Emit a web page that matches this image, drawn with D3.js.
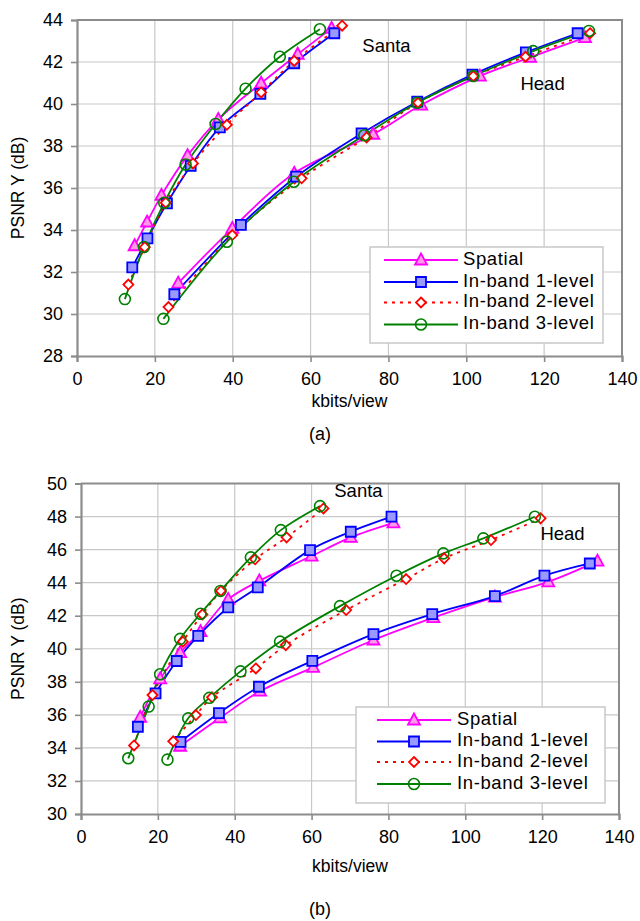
<!DOCTYPE html>
<html>
<head>
<meta charset="utf-8">
<script src="https://cdn.jsdelivr.net/npm/d3@7/dist/d3.min.js"></script>
<style>
  html, body { margin: 0; padding: 0; background: #ffffff; }
  svg { display: block; }
  text { font-family: "Liberation Sans", Arial, sans-serif; fill: #000; }
</style>
</head>
<body>
<svg id="chart" width="640" height="921"></svg>
<script>
// ---------- Data ----------
const seriesNames = ["Spatial", "In-band 1-level", "In-band 2-level", "In-band 3-level"];
const xTicks = [0, 20, 40, 60, 80, 100, 120, 140];
const yTicksA = [28, 30, 32, 34, 36, 38, 40, 42, 44];
const yTicksB = [30, 32, 34, 36, 38, 40, 42, 44, 46, 48, 50];

// (a) Santa
const aSantaSpatial = [[14.8,33.25],[18.0,34.38],[21.7,35.65],[28.4,37.54],[36.3,39.27],[47.3,40.99],[56.7,42.37],[65.4,43.6]];
const aSantaInband1 = [[14.2,32.22],[18.1,33.6],[23.1,35.27],[29.2,37.05],[36.7,38.89],[47.1,40.48],[55.8,41.94],[66.1,43.37]];
const aSantaInband2 = [[13.2,31.4],[17.4,33.18],[22.8,35.3],[29.8,37.17],[38.5,39.01],[47.3,40.55],[55.8,42.05],[68.1,43.73]];
const aSantaInband3 = [[12.3,30.71],[17.2,33.19],[22.4,35.3],[27.9,37.12],[35.6,39.05],[43.3,40.73],[52.1,42.25],[62.4,43.56]];
// (a) Head
const aHeadSpatial = [[26.0,31.47],[39.9,34.08],[55.8,36.7],[76.1,38.56],[88.4,39.95],[103.5,41.33],[116.4,42.22],[130.5,43.16]];
const aHeadInband1 = [[25.0,30.94],[42.1,34.24],[56.3,36.54],[73.1,38.6],[87.4,40.11],[101.6,41.4],[115.3,42.46],[128.6,43.37]];
const aHeadInband2 = [[23.5,30.33],[39.9,33.76],[57.7,36.46],[74.4,38.41],[87.6,40.06],[101.8,41.33],[115.2,42.25],[131.8,43.37]];
const aHeadInband3 = [[22.2,29.77],[38.5,33.44],[55.7,36.3],[73.8,38.51],[87.4,40.06],[101.8,41.33],[117.2,42.52],[131.5,43.48]];

// (b) Santa
const bSantaSpatial = [[15.4,35.85],[20.6,38.18],[25.8,39.76],[31.1,41.04],[38.3,42.99],[46.4,44.11],[60.0,45.61],[70.2,46.74],[81.3,47.62]];
const bSantaInband1 = [[14.8,35.28],[19.4,37.3],[24.9,39.26],[30.5,40.78],[38.3,42.5],[46.0,43.71],[59.6,45.97],[70.2,47.08],[80.8,47.99]];
const bSantaInband2 = [[13.8,34.15],[18.6,37.2],[26.5,40.43],[31.6,42.08],[36.4,43.5],[45.3,45.41],[53.5,46.74],[63.1,48.49]];
const bSantaInband3 = [[12.3,33.37],[17.6,36.5],[20.6,38.46],[25.8,40.6],[31.1,42.12],[36.3,43.5],[44.2,45.53],[52.0,47.18],[62.2,48.63]];
// (b) Head
const bHeadSpatial = [[25.8,34.1],[36.2,35.82],[46.6,37.43],[60.4,38.87],[76.1,40.53],[91.7,41.88],[107.7,43.12],[121.6,44.05],[134.4,45.3]];
const bHeadInband1 = [[25.9,34.37],[35.9,36.11],[46.3,37.7],[60.2,39.27],[76.1,40.89],[91.4,42.1],[107.7,43.19],[120.6,44.42],[132.4,45.16]];
const bHeadInband2 = [[24.0,34.4],[29.9,35.99],[34.1,37.06],[45.5,38.81],[53.3,40.22],[69.0,42.34],[84.6,44.22],[94.5,45.47],[106.7,46.58],[119.6,47.89]];
const bHeadInband3 = [[22.5,33.29],[27.9,35.79],[33.4,37.03],[41.5,38.63],[51.8,40.43],[67.4,42.58],[82.1,44.42],[94.3,45.77],[104.7,46.68],[118.1,47.99]];

// ---------- Styles ----------
const styles = [
  { color: "#ff00ff", fill: "#ff99e6", marker: "triangle", dash: null },
  { color: "#0000ff", fill: "#9999ff", marker: "square", dash: null },
  { color: "#ff0000", fill: "#ffffff", marker: "diamond", dash: "3,5" },
  { color: "#008000", fill: "none", marker: "circle", dash: null }
];

const svg = d3.select("#chart");

function markerPath(type) {
  if (type === "triangle") return "M0,-6.5 L6,4.5 L-6,4.5 Z";
  if (type === "square") return "M-5,-5 L5,-5 L5,5 L-5,5 Z";
  if (type === "diamond") return "M0,-5 L5,0 L0,5 L-5,0 Z";
  return d3.symbol().type(d3.symbolCircle).size(Math.PI * 30)();
}

function drawMarker(g, type, st, x, y) {
  g.append("path")
    .attr("d", markerPath(type))
    .attr("transform", `translate(${x},${y})`)
    .attr("fill", st.fill)
    .attr("stroke", st.color)
    .attr("stroke-width", type === "circle" ? 1.6 : 1.8);
}

function drawChart(cfg) {
  const g = svg.append("g");
  const x = d3.scaleLinear().domain([0, 140]).range([cfg.left, cfg.right]);
  const y = d3.scaleLinear().domain([cfg.yTicks[0], cfg.yTicks[cfg.yTicks.length - 1]]).range([cfg.bottom, cfg.top]);

  // Grid
  g.append("g").selectAll("line").data(xTicks.slice(1, -1)).join("line")
    .attr("x1", d => x(d)).attr("x2", d => x(d))
    .attr("y1", cfg.top).attr("y2", cfg.bottom)
    .attr("stroke", "#c8c8c8").attr("stroke-width", 1.2);
  g.append("g").selectAll("line").data(cfg.yTicks.slice(1, -1)).join("line")
    .attr("x1", cfg.left).attr("x2", cfg.right)
    .attr("y1", d => y(d)).attr("y2", d => y(d))
    .attr("stroke", "#c8c8c8").attr("stroke-width", 1.2);

  // Frame (top/right)
  g.append("path")
    .attr("d", `M${cfg.left},${cfg.top} H${cfg.right} V${cfg.bottom}`)
    .attr("fill", "none").attr("stroke", "#8c8c8c").attr("stroke-width", 2);

  // Axes
  const yAxis = d3.axisLeft(y).tickValues(cfg.yTicks).tickSize(6).tickPadding(8).tickFormat(d3.format("d"));
  const xAxis = d3.axisBottom(x).tickValues(xTicks).tickSize(6).tickPadding(10).tickFormat(d3.format("d"));
  const ya = g.append("g").attr("transform", `translate(${cfg.left},0)`).call(yAxis);
  const xa = g.append("g").attr("transform", `translate(0,${cfg.bottom})`).call(xAxis);
  [ya, xa].forEach(a => {
    a.select(".domain").attr("stroke", "#8c8c8c").attr("stroke-width", 2.2);
    a.selectAll(".tick line").attr("stroke", "#8c8c8c").attr("stroke-width", 1.6);
    a.selectAll(".tick text").attr("font-size", 18).attr("font-family", "Liberation Sans, Arial, sans-serif").attr("fill", "#000");
  });

  // Axis titles
  g.append("text")
    .attr("transform", `translate(${cfg.yTitleX},${(cfg.top + cfg.bottom) / 2}) rotate(-90)`)
    .attr("text-anchor", "middle").attr("dominant-baseline", "middle")
    .attr("font-size", 17.5).text("PSNR Y (dB)");
  g.append("text")
    .attr("x", (cfg.left + cfg.right) / 2).attr("y", cfg.xTitleY)
    .attr("text-anchor", "middle").attr("dominant-baseline", "middle")
    .attr("font-size", 17.5).text("kbits/view");

  // Series
  const line = d3.line().x(d => x(d[0])).y(d => y(d[1])).curve(d3.curveCatmullRom.alpha(0.5));
  cfg.groups.forEach(grp => {
    grp.forEach((data, i) => {
      const st = styles[i];
      g.append("path").datum(data)
        .attr("d", line).attr("fill", "none")
        .attr("stroke", st.color).attr("stroke-width", 1.8)
        .attr("stroke-dasharray", st.dash);
    });
  });
  cfg.groups.forEach(grp => {
    grp.forEach((data, i) => {
      const st = styles[i];
      const mg = g.append("g");
      data.forEach(d => drawMarker(mg, st.marker, st, x(d[0]), y(d[1])));
    });
  });

  // Curve labels
  cfg.labels.forEach(l => {
    g.append("text").attr("x", x(l.x)).attr("y", y(l.y))
      .attr("text-anchor", "middle").attr("dominant-baseline", "middle")
      .attr("font-size", 18.5).text(l.text);
  });

  // Legend
  const lg = g.append("g");
  lg.append("rect")
    .attr("x", cfg.legend.x).attr("y", cfg.legend.y)
    .attr("width", cfg.legend.w).attr("height", cfg.legend.h)
    .attr("fill", "#ffffff").attr("stroke", "#c8c8c8").attr("stroke-width", 1.5);
  seriesNames.forEach((name, i) => {
    const st = styles[i];
    const yy = cfg.legend.rows[i];
    lg.append("line")
      .attr("x1", cfg.legend.lx1).attr("x2", cfg.legend.lx2)
      .attr("y1", yy).attr("y2", yy)
      .attr("stroke", st.color).attr("stroke-width", 1.8)
      .attr("stroke-dasharray", st.dash);
    drawMarker(lg, st.marker, st, (cfg.legend.lx1 + cfg.legend.lx2) / 2, yy);
    lg.append("text").attr("x", cfg.legend.tx).attr("y", yy)
      .attr("dominant-baseline", "middle").attr("font-size", 18.5)
      .attr("letter-spacing", 0.6)
      .text(name);
  });

  // Caption
  svg.append("text").attr("x", 320).attr("y", cfg.captionY)
    .attr("text-anchor", "middle").attr("dominant-baseline", "middle")
    .attr("font-family", "Liberation Serif, Times New Roman, serif")
    .attr("font-size", 18).text(cfg.caption);
}

drawChart({
  left: 77, right: 622, top: 20, bottom: 356,
  yTicks: yTicksA,
  yTitleX: 19, xTitleY: 402,
  groups: [
    [aSantaSpatial, aSantaInband1, aSantaInband2, aSantaInband3],
    [aHeadSpatial, aHeadInband1, aHeadInband2, aHeadInband3]
  ],
  labels: [{ text: "Santa", x: 79.5, y: 42.7 }, { text: "Head", x: 119.6, y: 40.9 }],
  legend: { x: 370, y: 247, w: 233, h: 96, rows: [260, 282, 302.5, 324.5], lx1: 384, lx2: 458, tx: 463 },
  caption: "(a)", captionY: 435
});

drawChart({
  left: 81, right: 619, top: 483.5, bottom: 814,
  yTicks: yTicksB,
  yTitleX: 19, xTitleY: 867,
  groups: [
    [bSantaSpatial, bSantaInband1, bSantaInband2, bSantaInband3],
    [bHeadSpatial, bHeadInband1, bHeadInband2, bHeadInband3]
  ],
  labels: [{ text: "Santa", x: 72.2, y: 49.45 }, { text: "Head", x: 125.3, y: 46.85 }],
  legend: { x: 356, y: 707, w: 249, h: 96, rows: [720, 741.5, 762, 784], lx1: 377, lx2: 451, tx: 457 },
  caption: "(b)", captionY: 910
});
</script>
</body>
</html>
